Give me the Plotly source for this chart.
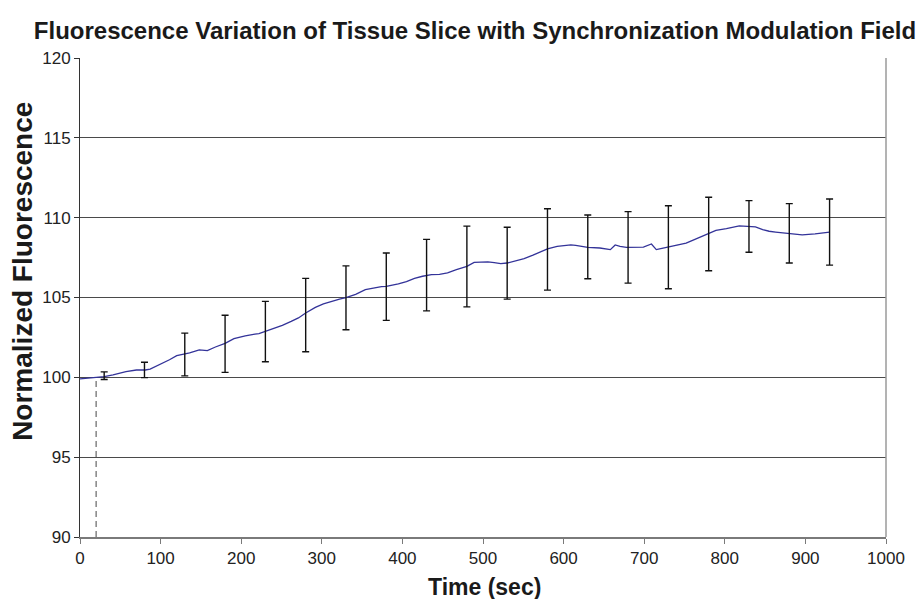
import plotly.graph_objects as go

# ---- data ----
time_sec = [0, 10, 19, 30, 41, 57, 70, 81, 87, 99, 104, 111, 120, 130, 136, 148, 158, 168, 180,
            191, 205, 217, 222, 229, 240, 251, 262, 271, 280, 292, 302, 312, 322, 330, 342, 354,
            364, 374, 380, 395, 405, 415, 425, 436, 446, 456, 467, 480, 489, 497, 506, 514, 522,
            530, 541, 551, 562, 572, 580, 592, 600, 609, 615, 621, 630, 645, 658, 664, 670, 678,
            690, 699, 709, 715, 722, 730, 744, 752, 760, 770, 780, 789, 802, 810, 818, 828, 838,
            847, 855, 863, 872, 880, 896, 912, 930]
fluor = [99.9, 99.95, 100.0, 100.04, 100.15, 100.36, 100.46, 100.46, 100.52, 100.8, 100.9, 101.1,
         101.36, 101.45, 101.53, 101.72, 101.67, 101.9, 102.13, 102.42, 102.6, 102.7, 102.74,
         102.86, 103.05, 103.26, 103.5, 103.72, 104.03, 104.38, 104.6, 104.76, 104.9, 104.99,
         105.2, 105.49, 105.6, 105.68, 105.7, 105.85, 106.0, 106.2, 106.33, 106.43, 106.45,
         106.54, 106.74, 106.95, 107.2, 107.22, 107.23, 107.18, 107.12, 107.16, 107.28, 107.43,
         107.65, 107.89, 108.05, 108.2, 108.25, 108.29, 108.27, 108.22, 108.14, 108.1, 108.0,
         108.29, 108.2, 108.14, 108.15, 108.16, 108.35, 108.0, 108.08, 108.16, 108.29, 108.4,
         108.58, 108.8, 109.0, 109.2, 109.31, 109.4, 109.48, 109.46, 109.42, 109.25, 109.15,
         109.1, 109.05, 109.0, 108.92, 108.98, 109.1]

err_time = [30, 80, 130, 180, 230, 280, 330, 380, 430, 480, 530, 580, 630, 680, 730, 780, 830, 880, 930]
err_mean = [100.1, 100.46, 101.43, 102.1, 102.87, 103.9, 104.98, 105.68, 106.4, 106.94, 107.15,
            108.01, 108.17, 108.14, 108.15, 108.98, 109.45, 109.02, 109.1]
err_half = [0.24, 0.48, 1.34, 1.79, 1.89, 2.3, 2.0, 2.11, 2.24, 2.53, 2.25, 2.55, 2.0, 2.24, 2.6,
            2.3, 1.62, 1.86, 2.07]

onset_x = [20, 20]
onset_y = [90, 100]

x_ticks = [0, 100, 200, 300, 400, 500, 600, 700, 800, 900, 1000]
y_ticks = [90, 95, 100, 105, 110, 115, 120]

FONT = "Liberation Sans, Arial, Helvetica, sans-serif"

fig = go.Figure()
fig.add_trace(go.Scatter(x=onset_x, y=onset_y, mode="lines",
                         line=dict(color="#666666", width=1.2, dash="6px,4px"),
                         hoverinfo="skip", showlegend=False))
fig.add_trace(go.Scatter(x=time_sec, y=fluor, mode="lines",
                         line=dict(color="#333399", width=1.3), showlegend=False))
fig.add_trace(go.Scatter(x=err_time, y=err_mean, mode="markers",
                         marker=dict(size=1, color="rgba(0,0,0,0)"),
                         error_y=dict(type="data", array=err_half, visible=True,
                                      color="#111111", thickness=1.4, width=3.5),
                         showlegend=False))

fig.update_layout(
    width=917, height=599,
    margin=dict(l=80, r=26, t=58, b=62),
    paper_bgcolor="white", plot_bgcolor="white",
    font=dict(family=FONT, color="#222222"),
    title=dict(text="<b>Fluorescence Variation of Tissue Slice with Synchronization Modulation Field</b>",
               font=dict(family=FONT, size=24, color="#1a1a1a"),
               x=475 / 917, xref="container", xanchor="center",
               y=1 - 31 / 599, yref="container", yanchor="middle"),
    xaxis=dict(range=[0, 1000], tickvals=x_ticks, ticktext=[str(v) for v in x_ticks],
               showgrid=False, zeroline=False,
               showline=True, linecolor="#7a7a7a", linewidth=2,
               ticks="outside", ticklen=5, tickcolor="#7a7a7a", tickwidth=1,
               tickfont=dict(size=17, family=FONT, color="#222222")),
    yaxis=dict(range=[90, 120], tickvals=y_ticks, ticktext=[str(v) for v in y_ticks],
               showgrid=True, gridcolor="#4a4a4a", gridwidth=1, zeroline=False,
               showline=True, linecolor="#333333", linewidth=1,
               ticks="outside", ticklen=5, tickcolor="#333333", tickwidth=1,
               tickfont=dict(size=17, family=FONT, color="#222222")),
    annotations=[
        dict(text="<b>Time (sec)</b>", xref="paper", yref="paper",
             x=(487 - 80) / 811, y=(537 - 586.7) / 479, xanchor="center", yanchor="middle",
             showarrow=False, font=dict(size=23, family=FONT, color="#1a1a1a")),
        dict(text="<b>Normalized Fluorescence</b>", xref="paper", yref="paper",
             x=(22 - 80) / 811, y=(537 - 271.5) / 479, xanchor="center", yanchor="middle",
             textangle=-90, showarrow=False, font=dict(size=28, family=FONT, color="#1a1a1a")),
    ],
    shapes=[dict(type="line", xref="paper", yref="paper", x0=1, x1=1, y0=0, y1=1,
                 line=dict(color="#9a9a9a", width=1.5))],
)

fig.write_html("out.html")
